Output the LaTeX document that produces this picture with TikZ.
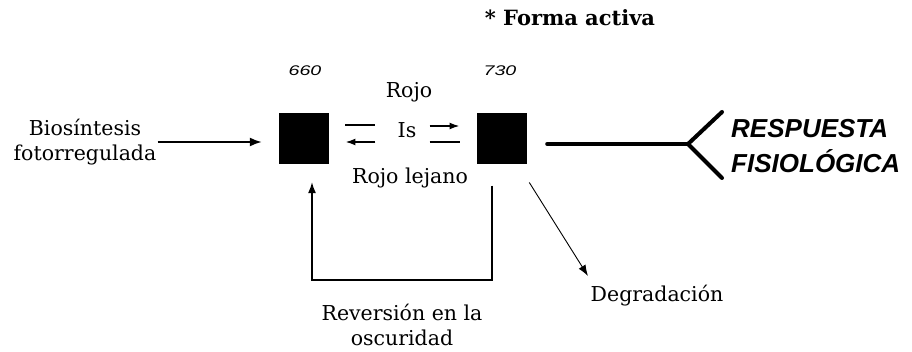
\documentclass[tikz,border=0pt]{standalone}
\usepackage{fontspec}
\setmainfont{DejaVu Serif}
\newfontfamily\respfont{Liberation Sans}
\newfontfamily\numfont[FakeStretch=1.4]{Liberation Sans}
\usetikzlibrary{positioning,arrows.meta}

\begin{document}
\begin{tikzpicture}[
    x=1pt, y=-1pt,
    >={Latex[length=12pt,width=9pt]},
    txt/.style={
        font=\fontsize{20.5}{25}\selectfont,
        align=center,
        inner sep=0pt
    },
    wavelength/.style={
        font=\numfont\itshape\fontsize{14}{16}\selectfont,
        inner sep=0pt
    },
    pigment/.style={
        fill=black,
        minimum width=50pt,
        minimum height=51pt,
        inner sep=0pt
    },
    response/.style={
        font=\respfont\bfseries\itshape\fontsize{26}{35}\selectfont,
        align=left,
        inner sep=0pt
    },
    arrow/.style={->, line width=1.8pt},
    bar/.style={line width=1.6pt},
    harpoon/.style={->, line width=1.6pt, >={Latex[length=10pt,width=7pt]}},
    looparrow/.style={->, line width=1.3pt, >={Latex[length=11pt,width=8pt]}},
    thinarrow/.style={->, line width=0.9pt, >={Latex[length=11pt,width=8pt]}},
    thickline/.style={line width=4pt, line cap=round}
]
\useasboundingbox (0,0) rectangle (912,352);

% PIGMENT FORMS
\node[pigment] (pr) at (304,138.5) {};
\node[pigment] (pfr) at (502,139) {};

\node[wavelength] (n660) at (305,71) {660};
\node[wavelength] (n730) at (500,71) {730};

\node[txt, font=\bfseries\fontsize{21}{25}\selectfont] (activa) at (570,18)
{* Forma activa};

% INTERCONVERSION
\node[txt] (rojo) at (409,92) {Rojo};
\node[txt] (is) at (407,130) {Is};
\node[txt] (lejano) at (410,178) {Rojo lejano};

\draw[bar] ([xshift=-52pt,yshift=5pt]is.west) -- ([xshift=-22pt,yshift=5pt]is.west);
\draw[harpoon] ([xshift=-22pt,yshift=-12pt]is.west) -- ([xshift=-52pt,yshift=-12pt]is.west);
\draw[harpoon] ([xshift=13pt,yshift=4pt]is.east) -- ([xshift=43pt,yshift=4pt]is.east);
\draw[bar] ([xshift=13pt,yshift=-12pt]is.east) -- ([xshift=43pt,yshift=-12pt]is.east);

% SYNTHESIS
\node[txt] (bio) at (85,142)
{Biosíntesis\\fotorregulada};

\draw[arrow, shorten <=1pt, shorten >=17pt] (bio.east) -- (bio.east -| pr.west);

% DARK REVERSION
\node[txt] (rev) at (402,325)
{Reversión en la\\oscuridad};

\coordinate (loopr) at (492,280);
\draw[looparrow] ([xshift=-10pt,yshift=-21pt]pfr.south) -- (loopr)
    -| ([xshift=8pt,yshift=-18pt]pr.south);

% DEGRADATION
\node[txt] (degr) at (657,296) {Degradación};
\coordinate (degtip) at (588,276);
\draw[thinarrow, shorten <=21pt] (pfr) -- (degtip);

% RESPONSE
\coordinate (fork) at (688,144);
\coordinate (forktop) at (722,112);
\coordinate (forkbot) at (722,178);

\draw[thickline, shorten <=20pt] (pfr.east |- fork) -- (fork);
\draw[thickline] (forktop) -- (fork) -- (forkbot);

\node[response, anchor=west] (resp) at (731,146)
{RESPUESTA\\FISIOLÓGICA};

\end{tikzpicture}
\end{document}
